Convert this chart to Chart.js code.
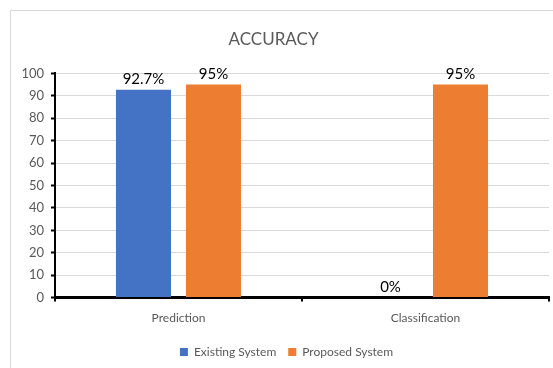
<!DOCTYPE html>
<html><head><meta charset="utf-8">
<script src="https://cdn.jsdelivr.net/npm/chart.js@4/dist/chart.umd.min.js"></script>
<style>html,body{margin:0;padding:0;background:#fff}#wrap{width:553px;height:368px;position:relative}</style>
</head><body><div id="wrap"><canvas id="c" width="553" height="368"></canvas></div>
<script>
const categories = ['Prediction', 'Classification'];
const existingSystem = [92.7, 0];
const proposedSystem = [95, 95];
const seriesNames = ['Existing System', 'Proposed System'];
const yTicks = [0, 10, 20, 30, 40, 50, 60, 70, 80, 90, 100];

const FONT = 'Lato, "Liberation Sans", sans-serif';
const GREY = '#595959';

const frame = {
  id: 'frame',
  beforeDraw(chart) {
    const c = chart.ctx;
    c.save();
    c.fillStyle = '#fff';
    c.fillRect(0, 0, chart.width, chart.height);
    c.strokeStyle = '#d9d9d9';
    c.lineWidth = 1;
    c.strokeRect(10.5, 10.5, 560, 380);
    c.restore();
  }
};
const shiftBoxes = {
  id: 'shiftBoxes',
  afterLayout(chart) {
    if (chart.legend) { chart.legend.left += 6; chart.legend.right += 6; }
    if (chart.titleBlock) { chart.titleBlock.left -= 7; chart.titleBlock.right -= 7; }
  }
};
const valueLabels = {
  id: 'valueLabels',
  afterDatasetsDraw(chart) {
    const c = chart.ctx;
    c.save();
    c.font = '15px ' + FONT;
    c.fillStyle = '#000';
    c.textAlign = 'center';
    c.textBaseline = 'bottom';
    chart.data.datasets.forEach((ds, i) => {
      chart.getDatasetMeta(i).data.forEach((bar, j) => {
        c.fillText(ds.data[j] + '%', bar.x, bar.y - 3);
      });
    });
    c.restore();
  }
};

new Chart(document.getElementById('c'), {
  type: 'bar',
  data: {
    labels: categories,
    datasets: [
      { label: seriesNames[0], data: existingSystem, backgroundColor: '#4472C4' },
      { label: seriesNames[1], data: proposedSystem, backgroundColor: '#ED7D31' }
    ]
  },
  options: {
    responsive: false,
    animation: false,
    devicePixelRatio: 1,
    categoryPercentage: 0.567,
    barPercentage: 0.786,
    layout: { padding: { top: 25, left: 12, right: 4, bottom: 0 } },
    plugins: {
      title: { display: true, text: 'ACCURACY', color: GREY, font: { family: FONT, size: 17, weight: 'normal' }, padding: { top: 4, bottom: 24 } },
      legend: { position: 'bottom', labels: { color: GREY, font: { family: FONT, size: 12 }, boxWidth: 8, boxHeight: 8, padding: 12 } },
      tooltip: { enabled: false }
    },
    scales: {
      x: {
        grid: { offset: true, drawOnChartArea: false, tickColor: '#000', tickLength: 4, lineWidth: 2 },
        border: { color: '#000', width: 3 },
        ticks: { color: GREY, font: { family: FONT, size: 12 }, padding: 9 }
      },
      y: {
        min: 0, max: 100,
        afterBuildTicks(scale) { scale.ticks = yTicks.map(v => ({ value: v })); },
        afterFit(scale) { scale.width = 43; },
        grid: { color: '#d9d9d9', tickColor: '#000', tickLength: 4, tickWidth: 2, lineWidth: 1 },
        border: { color: '#000', width: 2 },
        ticks: { color: GREY, font: { family: FONT, size: 13 }, padding: 7 }
      }
    }
  },
  plugins: [frame, shiftBoxes, valueLabels]
});
</script></body></html>
